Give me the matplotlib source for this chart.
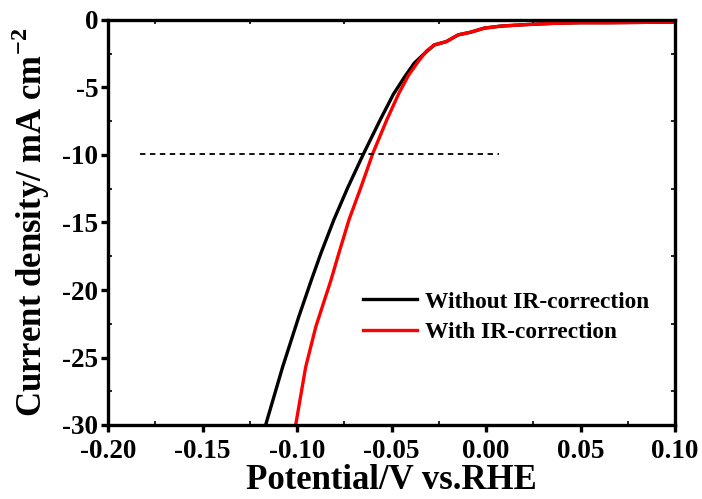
import numpy as np
import matplotlib.pyplot as plt
from matplotlib.ticker import MultipleLocator

plt.rcParams['font.family'] = ['Liberation Serif', 'DejaVu Serif']
plt.rcParams['font.weight'] = 'bold'
plt.rcParams['mathtext.fontset'] = 'custom'
plt.rcParams['mathtext.rm'] = 'Liberation Serif:bold'
plt.rcParams['mathtext.bf'] = 'Liberation Serif:bold'

# Without IR-correction (potential V, current density mA cm-2)
v_raw = [-0.1166, -0.1076, -0.0991, -0.0925, -0.0874, -0.0805, -0.0731,
         -0.0646, -0.0560, -0.0490, -0.043, -0.038, -0.0327, -0.0274,
         -0.021, -0.0147, -0.008, -0.0009, 0.008, 0.02, 0.035, 0.05, 0.065,
         0.08, 0.1]
j_raw = [-30.0, -25.7, -22.0, -19.3, -17.3, -14.8, -12.4,
         -9.85, -7.4, -5.5, -4.2, -3.2, -2.5, -1.85,
         -1.6, -1.1, -0.9, -0.6, -0.45, -0.35, -0.25, -0.2, -0.2,
         -0.18, -0.15]

# With IR-correction
v_ir = [-0.1007, -0.0954, -0.0900, -0.0821, -0.0779, -0.0725, -0.0662,
        -0.0598, -0.0525, -0.046, -0.041, -0.036, -0.0315, -0.0274,
        -0.021, -0.0147, -0.008, -0.0009, 0.008, 0.02, 0.035, 0.05, 0.065,
        0.08, 0.1]
j_ir = [-30.0, -25.7, -22.7, -19.3, -17.3, -14.8, -12.4,
        -9.85, -7.4, -5.4, -4.1, -3.1, -2.3, -1.85,
        -1.6, -1.1, -0.9, -0.6, -0.45, -0.35, -0.25, -0.2, -0.2,
        -0.18, -0.15]

ref_v = [-0.183, 0.007]
ref_j = [-9.9, -9.9]

fig = plt.figure(figsize=(7.02, 4.99), dpi=100)
ax = fig.add_axes([108 / 702, 1 - 425 / 499, (675 - 108) / 702, (425 - 20) / 499])

ax.plot(v_raw, j_raw, color='black', lw=2.4, label='Without IR-correction')
ax.plot(v_ir, j_ir, color='red', lw=2.4, label='With IR-correction')
ax.plot(ref_v, ref_j, color='black', lw=1.3, ls=(0, (3, 2.5)))

ax.set_xlim(-0.20, 0.10)
ax.set_ylim(-30, 0)
ax.xaxis.set_major_locator(MultipleLocator(0.05))
ax.xaxis.set_minor_locator(MultipleLocator(0.025))
ax.yaxis.set_major_locator(MultipleLocator(5))
ax.yaxis.set_minor_locator(MultipleLocator(2.5))
ax.set_xticklabels([f'{t:.2f}' for t in ax.get_xticks()])
ax.set_yticklabels([f'{t:.0f}' for t in ax.get_yticks()])

for s in ax.spines.values():
    s.set_linewidth(2.4)
ax.tick_params(which='major', direction='out', length=5, width=2.4,
               labelsize=19.5, pad=2)
ax.tick_params(axis='x', which='major', pad=5)
ax.tick_params(which='minor', direction='in', length=3, width=1.2)
ax.tick_params(top=True, right=True, which='both', labeltop=False, labelright=False)
ax.tick_params(axis='x', which='major', top=False)
ax.tick_params(axis='y', which='major', right=False)

ax.set_xlabel('Potential/V vs.RHE', fontsize=25, fontweight='bold')
ax.set_ylabel('Current density/ mA cm$^{-2}$', fontsize=25, fontweight='bold')
ax.xaxis.set_label_coords(0.5, -0.097)
ax.yaxis.set_label_coords(-0.099, 0.5)

ax.legend(loc='center left', bbox_to_anchor=(0.45, 0.266), frameon=False,
          borderpad=0, borderaxespad=0, handlelength=2.3, handletextpad=0.35,
          labelspacing=0.4, prop={'weight': 'bold', 'size': 16.8})

fig.savefig('out.png', dpi=100)
